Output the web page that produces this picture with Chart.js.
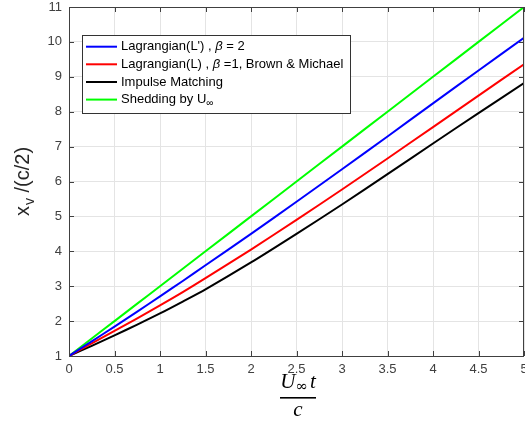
<!DOCTYPE html>
<html>
<head>
<meta charset="utf-8">
<script src="https://cdn.jsdelivr.net/npm/chart.js@4.4.0/dist/chart.umd.min.js"></script>
<style>
html,body{margin:0;padding:0;background:#fff;}
#wrap{width:525px;height:421px;}
</style>
</head>
<body>
<div id="wrap"><canvas id="c" width="525" height="421"></canvas></div>
<script>
// ---- data ----
const xValues = [0, 0.25, 0.5, 0.75, 1, 1.25, 1.5, 2, 2.5, 3, 3.5, 4, 4.5, 5];
const blueY  = [1, 1.42, 1.84, 2.27, 2.71, 3.15, 3.60, 4.50, 5.42, 6.35, 7.29, 8.24, 9.18, 10.12];
const redY   = [1, 1.36, 1.72, 2.08, 2.45, 2.83, 3.23, 4.05, 4.90, 5.77, 6.66, 7.56, 8.46, 9.36];
const blackY = [1, 1.29, 1.59, 1.90, 2.22, 2.56, 2.91, 3.68, 4.50, 5.34, 6.21, 7.09, 7.96, 8.82];
const greenY = [1, 1.50, 2.00, 2.50, 3.00, 3.50, 4.00, 5.00, 6.00, 7.00, 8.00, 9.00, 10.00, 11.00];
const xTickLabels = ['0','0.5','1','1.5','2','2.5','3','3.5','4','4.5','5'];
const yTickLabels = ['1','2','3','4','5','6','7','8','9','10','11'];
const seriesNames = ["Lagrangian(L') , \u03b2 = 2", "Lagrangian(L) , \u03b2 =1, Brown & Michael", "Impulse Matching", "Shedding by U\u221e"];

const pts = ys => xValues.map((x, i) => ({x: x, y: ys[i]}));
const SANS = "'Liberation Sans', Arial, sans-serif";
const AXC = '#404040';

function mkDs(label, ys, color) {
  return {label, data: pts(ys), borderColor: color, backgroundColor: color,
    borderWidth: 2, pointRadius: 0, showLine: true, tension: 0.25, fill: false};
}

const decor = {
  id: 'decor',
  afterDatasetsDraw(chart) {
    const ctx = chart.ctx, a = chart.chartArea;
    const xs = chart.scales.x, ys = chart.scales.y;
    ctx.save();
    ctx.strokeStyle = AXC; ctx.lineWidth = 1;
    ctx.beginPath();
    ctx.moveTo(a.left + 0.5, a.bottom + 0.5); ctx.lineTo(a.left + 0.5, a.top + 0.5);
    ctx.lineTo(a.right - 0.5, a.top + 0.5); ctx.lineTo(a.right - 0.5, a.bottom + 0.5);
    ctx.lineTo(a.left + 0.5, a.bottom + 0.5);
    ctx.stroke();
    const L = 5;
    ctx.beginPath();
    xs.ticks.forEach(t => {
      const px = Math.round(xs.getPixelForValue(t.value)) + 0.5;
      ctx.moveTo(px, a.bottom); ctx.lineTo(px, a.bottom - L);
      ctx.moveTo(px, a.top); ctx.lineTo(px, a.top + L);
    });
    ys.ticks.forEach(t => {
      const py = Math.round(ys.getPixelForValue(t.value)) + 0.5;
      ctx.moveTo(a.left, py); ctx.lineTo(a.left + L, py);
      ctx.moveTo(a.right, py); ctx.lineTo(a.right - L, py);
    });
    ctx.stroke();
    ctx.restore();
  },
  afterDraw(chart) {
    const ctx = chart.ctx, a = chart.chartArea;
    ctx.save();
    // ---- legend ----
    const lx = 82.5, ly = 35.5, lw = 268, lh = 78;
    ctx.fillStyle = '#fff'; ctx.fillRect(lx, ly, lw, lh);
    ctx.strokeStyle = '#333'; ctx.lineWidth = 1; ctx.strokeRect(lx, ly, lw, lh);
    const rowY = [46.7, 64.3, 82, 99.6];
    const cols = chart.data.datasets.map(d => d.borderColor);
    ctx.textBaseline = 'middle';
    rowY.forEach((y, i) => {
      ctx.strokeStyle = cols[i]; ctx.lineWidth = 2;
      ctx.beginPath(); ctx.moveTo(86, y); ctx.lineTo(117, y); ctx.stroke();
    });
    ctx.fillStyle = '#000';
    const F = '13px ' + SANS, FI = 'italic 13px ' + SANS;
    function segs(list, x, y) {
      list.forEach(s => {
        ctx.font = s.f; ctx.fillText(s.t, x, y + (s.dy || 0)); x += ctx.measureText(s.t).width;
      });
    }
    segs([{t: "Lagrangian(L') , ", f: F}, {t: "\u03b2", f: FI}, {t: " = 2", f: F}], 121, rowY[0]);
    segs([{t: "Lagrangian(L) , ", f: F}, {t: "\u03b2", f: FI}, {t: " =1, Brown & Michael", f: F}], 121, rowY[1]);
    segs([{t: "Impulse Matching", f: F}], 121, rowY[2]);
    segs([{t: "Shedding by U", f: F}, {t: "\u221e", f: '10px ' + SANS, dy: 4}], 121, rowY[3]);

    // ---- y title ----
    ctx.save();
    ctx.textBaseline = 'alphabetic';
    const F1 = '20px ' + SANS, F2 = '14px ' + SANS;
    ctx.font = F1; const w1 = ctx.measureText('x').width;
    ctx.font = F2; const w2 = ctx.measureText('v').width;
    ctx.font = F1; const w3 = ctx.measureText(' /(c/2)').width;
    const total = w1 + 1 + w2 + w3;
    const cy = (a.top + a.bottom) / 2;
    ctx.translate(29, cy + total / 2);
    ctx.rotate(-Math.PI / 2);
    ctx.fillStyle = '#262626';
    ctx.font = F1; ctx.fillText('x', 0, 0);
    ctx.font = F2; ctx.fillText('v', w1 + 1, 5);
    ctx.font = F1; ctx.fillText(' /(c/2)', w1 + 1 + w2, 0);
    ctx.restore();

    // ---- x title (fraction) ----
    ctx.fillStyle = '#000';
    ctx.textBaseline = 'alphabetic';
    const SI = "italic 21px 'Liberation Serif', 'DejaVu Serif', serif";
    const SR = "15px 'DejaVu Serif', 'Liberation Serif', serif";
    ctx.font = SI; const wu = ctx.measureText('U').width;
    ctx.font = SR; const wi = ctx.measureText('\u221e').width;
    ctx.font = SI; const wt = ctx.measureText('t').width;
    const numW = wu + wi + 2 + wt;
    const cx = 298;
    let x0 = cx - numW / 2;
    ctx.font = SI; ctx.fillText('U', x0, 388);
    ctx.font = SR; ctx.fillText('\u221e', x0 + wu, 391);
    ctx.font = SI; ctx.fillText('t', x0 + wu + wi + 2, 388);
    ctx.fillRect(cx - 18, 397, 36, 1.6);
    ctx.font = SI; const wc = ctx.measureText('c').width;
    ctx.fillText('c', cx - wc / 2, 416);
    ctx.restore();
  }
};

new Chart(document.getElementById('c'), {
  type: 'scatter',
  data: {
    datasets: [
      mkDs(seriesNames[0], blueY, '#0000ff'),
      mkDs(seriesNames[1], redY, '#ff0000'),
      mkDs(seriesNames[2], blackY, '#000000'),
      mkDs(seriesNames[3], greenY, '#00ff00')
    ]
  },
  options: {
    responsive: false,
    devicePixelRatio: 1,
    animation: false,
    layout: {padding: {left: 0, top: 7, right: 1, bottom: 0}},
    plugins: {legend: {display: false}, tooltip: {enabled: false}},
    scales: {
      x: {
        type: 'linear', min: 0, max: 5,
        afterFit(s) { s.height = 65; s.paddingLeft = 0; s.paddingRight = 0; },
        ticks: {stepSize: 0.5, padding: 6, color: AXC, font: {size: 13, family: SANS}, maxRotation: 0, autoSkip: false,
          callback: (v, i) => xTickLabels[i]},
        grid: {color: '#e4e4e4', drawTicks: false, lineWidth: 1},
        border: {display: false}
      },
      y: {
        type: 'linear', min: 1, max: 11,
        afterFit(s) { s.width = 69; s.paddingTop = 0; s.paddingBottom = 0; },
        ticks: {stepSize: 1, padding: 7, color: AXC, font: {size: 13, family: SANS}, autoSkip: false,
          callback: (v, i) => yTickLabels[i]},
        grid: {color: '#e4e4e4', drawTicks: false, lineWidth: 1},
        border: {display: false}
      }
    }
  },
  plugins: [decor]
});
</script>
</body>
</html>
